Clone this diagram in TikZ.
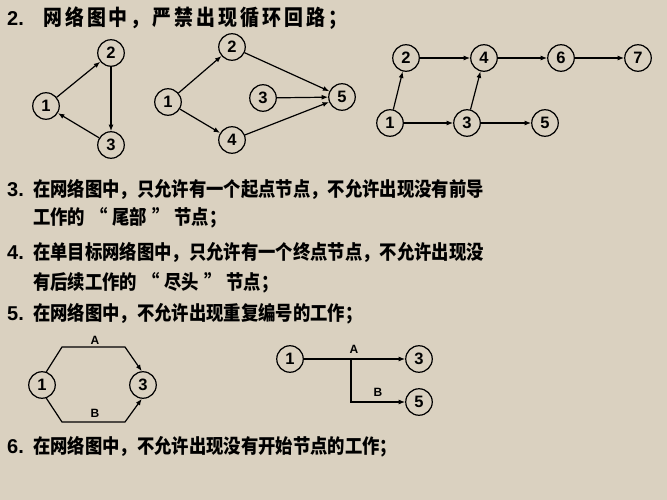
\documentclass[tikz,border=0pt]{standalone}
\usepackage{fontspec}
\setmainfont{Liberation Sans}
\newfontfamily\cjk[FakeStretch=0.88]{Noto Sans CJK SC}
\usepackage{tikz}
\usetikzlibrary{arrows.meta}
\definecolor{paper}{RGB}{218,209,192}
\newcommand\itemno[2][26pt]{\makebox[#1][l]{\rmfamily\fontsize{20}{20}\selectfont #2.}}
\newcommand\cnquote[1]{\hspace{5pt}“\hspace{5pt}#1\hspace{5pt}”\hspace{5pt}}
\tikzset{
	ev/.style={circle,draw,line width=1.2pt,minimum size=26.5pt,inner sep=0pt,font=\bfseries\fontsize{16.5}{16.5}\selectfont},
	act/.style={line width=1.2pt,-{Latex[length=6.5pt,width=5pt]}},
	txt/.style={anchor=west,inner sep=0pt,text height=17pt,text depth=2.5pt,font=\bfseries\cjk\fontsize{19.7}{19.7}\selectfont},
	ttl/.style={txt,text height=19pt,text depth=2.6pt,font=\bfseries\cjk\fontsize{21.5}{21.5}\selectfont\addfontfeature{LetterSpace=14}},
	lbl/.style={inner sep=0pt,font=\bfseries\fontsize{12}{12}\selectfont}
}

\begin{document}
\begin{tikzpicture}[x=1pt,y=-1pt]
		\fill[paper] (0,0) rectangle (667,500);
		\useasboundingbox (0,0) rectangle (667,500);
		\node(t2) [ttl] at (7,17) {\itemno[36pt]{2}网络图中，严禁出现循环回路；};
		\node(t3) [txt] at (7,189) {\itemno{3}在网络图中，只允许有一个起点节点，不允许出现没有前导};
		\node(t3b) [txt] at (33,217) {工作的\cnquote{尾部}节点；};
		\node(t4) [txt] at (7,252) {\itemno{4}在单目标网络图中，只允许有一个终点节点，不允许出现没};
		\node(t4b) [txt] at (33,282) {有后续工作的\cnquote{尽头}节点；};
		\node(t5) [txt] at (7,313) {\itemno{5}在网络图中，不允许出现重复编号的工作；};
		\node(t6) [txt] at (7,446) {\itemno{6}在网络图中，不允许出现没有开始节点的工作；};
		\node(a1) [ev] at (46,106) {1};
		\node(a2) [ev] at (111,53) {2};
		\node(a3) [ev] at (111,145) {3};
		\path[act]
			(a1) edge (a2)
			(a2) edge (a3)
			(a3) edge (a1);
		\node(b1) [ev] at (168,102) {1};
		\node(b2) [ev] at (232,47) {2};
		\node(b3) [ev] at (263,98) {3};
		\node(b4) [ev] at (232,140) {4};
		\node(b5) [ev] at (342,97) {5};
		\path[act]
			(b1) edge (b2)
			(b1) edge (b4)
			(b2) edge (b5)
			(b3) edge (b5)
			(b4) edge (b5);
		\node(c1) [ev] at (390,123) {1};
		\node(c2) [ev] at (406,58) {2};
		\node(c3) [ev] at (467,123) {3};
		\node(c4) [ev] at (484,58) {4};
		\node(c5) [ev] at (545,123) {5};
		\node(c6) [ev] at (561,58) {6};
		\node(c7) [ev] at (638,58) {7};
		\path[act]
			(c1) edge (c2)
			(c2) edge (c4)
			(c4) edge (c6)
			(c6) edge (c7)
			(c1) edge (c3)
			(c3) edge (c4)
			(c3) edge (c5);
		\node(d1) [ev] at (42,385) {1};
		\node(d3) [ev] at (143,385) {3};
		\draw[act] (d1.72) -- (62,347) -- (125,347) -- (d3.95);
		\draw[act] (d1.-72) -- (62,422) -- (125,422) -- (d3.-95);
		\node(dA) [lbl] at (95,340) {A};
		\node(dB) [lbl] at (95,413) {B};
		\node(e1) [ev] at (290,359) {1};
		\node(e3) [ev] at (419,359) {3};
		\node(e5) [ev] at (419,402) {5};
		\coordinate(fork) at (351,359);
		\draw[act] (e1) -- (e3);
		\draw[act] (fork) |- (e5);
		\node(eA) [lbl] at (354,349) {A};
		\node(eB) [lbl] at (378,392) {B};
	\end{tikzpicture}
\end{document}
